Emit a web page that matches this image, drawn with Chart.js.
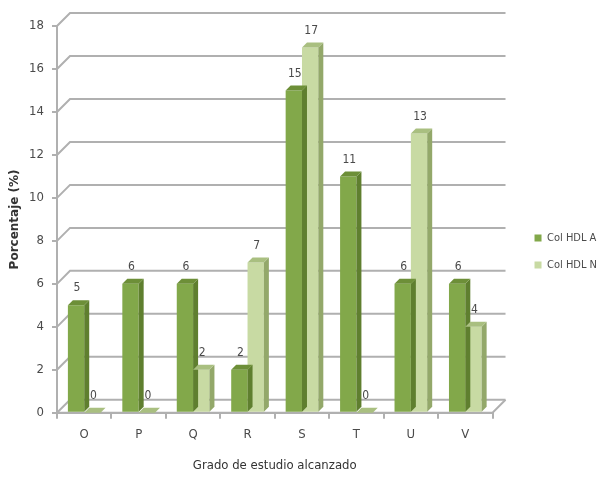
<!DOCTYPE html>
<html>
<head>
<meta charset="utf-8">
<script src="https://cdn.jsdelivr.net/npm/chart.js@4"></script>
<style>
  html, body { margin: 0; padding: 0; background: #fff; }
  #wrap { width: 607px; height: 479px; }
</style>
</head>
<body>
<div id="wrap"><canvas id="chart"></canvas></div>
<script>
const categories = ['O', 'P', 'Q', 'R', 'S', 'T', 'U', 'V'];
const colHdlA = [5, 6, 6, 2, 15, 11, 6, 6];
const colHdlN = [0, 0, 2, 7, 17, 0, 13, 4];
const seriesNames = ['Col HDL A', 'Col HDL N'];

const FONT = "'Liberation Sans Narrow', 'DejaVu Sans Condensed', sans-serif";
const TEXT = '#4a4a4a';
const GRID = '#b0b0b0';
const DEPTH_X = 13, DEPTH_Y = 13; // wall depth
const BAR_D = 5;                  // bar side depth

const faces = [
    { front: '#82a84a', side: '#5f7f2f', top: '#6d8f38' },
    { front: '#c8daa3', side: '#93a86a', top: '#a9bf80' }
];

// back wall + floor grid in 3D look
const wallGrid = {
    id: 'wallGrid',
    beforeDatasetsDraw(chart) {
        const { ctx, chartArea: a, scales: { y } } = chart;
        ctx.save();
        ctx.strokeStyle = GRID;
        ctx.lineWidth = 2;
        y.ticks.forEach(t => {
            const py = y.getPixelForValue(t.value);
            ctx.beginPath();
            ctx.moveTo(a.left, py);
            ctx.lineTo(a.left + DEPTH_X, py - DEPTH_Y);
            ctx.lineTo(a.right + DEPTH_X, py - DEPTH_Y);
            ctx.stroke();
        });
        // floor
        const y0 = y.getPixelForValue(0);
        ctx.beginPath();
        ctx.moveTo(a.left, y0);
        ctx.lineTo(a.right, y0);
        ctx.lineTo(a.right + DEPTH_X, y0 - DEPTH_Y);
        ctx.stroke();
        ctx.restore();
    }
};

// side/top faces of bars and value labels
const barFaces = {
    id: 'barFaces',
    afterDatasetsDraw(chart) {
        const { ctx } = chart;
        ctx.save();
        chart.data.datasets.forEach((ds, di) => {
            const meta = chart.getDatasetMeta(di);
            meta.data.forEach((bar, i) => {
                const { x, y, base, width } = bar.getProps(['x', 'y', 'base', 'width'], true);
                const r = x + width / 2, l = x - width / 2;
                ctx.fillStyle = faces[di].side;
                ctx.beginPath();
                ctx.moveTo(r, base);
                ctx.lineTo(r, y);
                ctx.lineTo(r + BAR_D, y - BAR_D);
                ctx.lineTo(r + BAR_D, base - BAR_D);
                ctx.closePath();
                ctx.fill();
                ctx.fillStyle = faces[di].top;
                ctx.beginPath();
                ctx.moveTo(l, y);
                ctx.lineTo(r, y);
                ctx.lineTo(r + BAR_D, y - BAR_D);
                ctx.lineTo(l + BAR_D, y - BAR_D);
                ctx.closePath();
                ctx.fill();
                ctx.fillStyle = TEXT;
                ctx.font = '12px ' + FONT;
                ctx.textAlign = 'center';
                ctx.textBaseline = 'bottom';
                ctx.fillText(String(ds.data[i]), x + 1, y - BAR_D - 6);
            });
        });
        ctx.restore();
    }
};

new Chart(document.getElementById('chart'), {
    type: 'bar',
    data: {
        labels: categories,
        datasets: [
            { label: seriesNames[0], data: colHdlA, backgroundColor: faces[0].front },
            { label: seriesNames[1], data: colHdlN, backgroundColor: faces[1].front }
        ]
    },
    options: {
        responsive: true,
        maintainAspectRatio: false,
        animation: false,
        layout: { padding: { top: 26, left: 4, bottom: 2 } },
        datasets: { bar: { categoryPercentage: 0.6, barPercentage: 1 } },
        plugins: {
            legend: {
                position: 'right',
                labels: {
                    boxWidth: 7,
                    boxHeight: 7,
                    padding: 16,
                    color: TEXT,
                    font: { family: FONT, size: 11 }
                }
            },
            tooltip: { enabled: false }
        },
        scales: {
            x: {
                grid: { display: true, drawOnChartArea: false, tickLength: 6, color: GRID, lineWidth: 2 },
                border: { color: GRID, width: 2 },
                ticks: { color: TEXT, font: { family: FONT, size: 13 }, padding: 8 },
                title: { display: true, text: 'Grado de estudio alcanzado', color: '#333', font: { family: FONT, size: 13 }, padding: { top: 7 } }
            },
            y: {
                min: 0,
                max: 18,
                ticks: { stepSize: 2, color: TEXT, font: { family: FONT, size: 13 }, padding: 8 },
                grid: { display: true, drawOnChartArea: false, tickLength: 5, color: GRID, lineWidth: 2 },
                border: { color: GRID, width: 2 },
                title: { display: true, text: 'Porcentaje (%)', color: '#333', font: { family: "'DejaVu Sans', sans-serif", size: 12, weight: 'bold' }, padding: { bottom: 2 } },
                afterFit(scale) { scale.width = 53; }
            },
            pad: {
                position: 'right',
                display: true,
                grid: { display: false },
                border: { display: false },
                ticks: { display: false },
                afterFit(scale) { scale.width = 26; }
            }
        }
    },
    plugins: [wallGrid, barFaces]
});
</script>
</body>
</html>
